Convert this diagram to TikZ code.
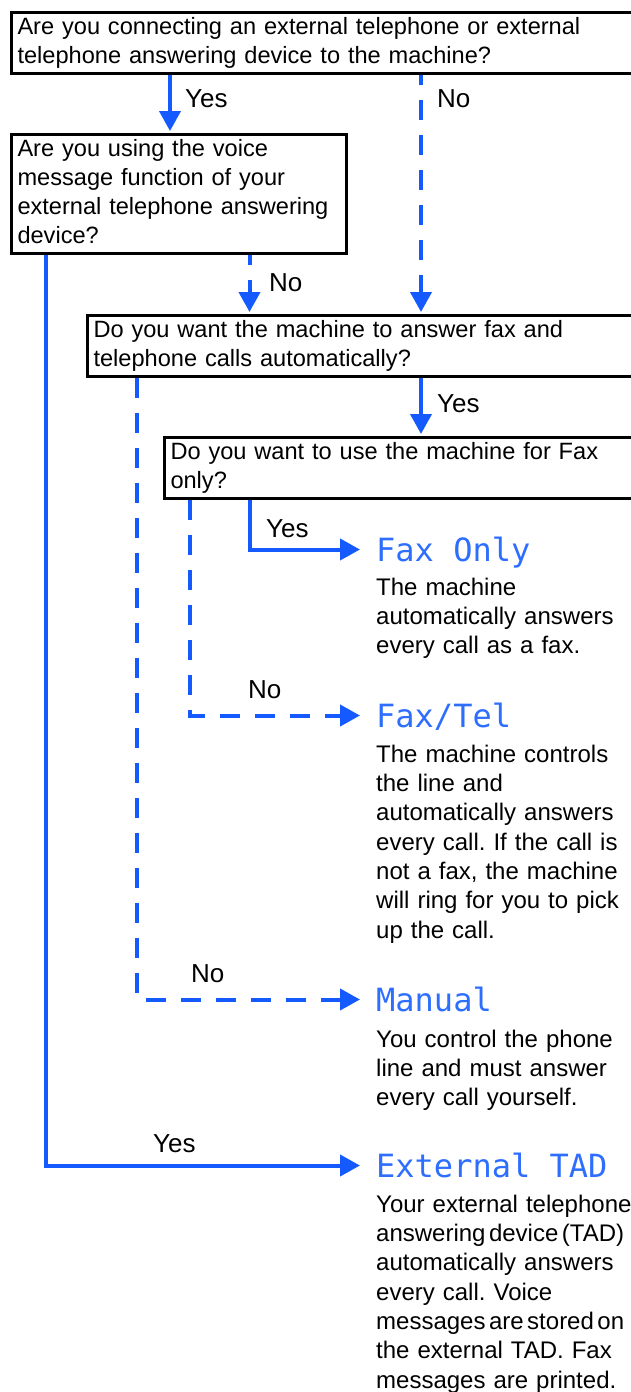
\documentclass[tikz,border=0pt]{standalone}
\usepackage{fontspec}
\setmainfont{Liberation Sans}
\newfontfamily\lcdfont{DejaVu Sans Mono}
\usetikzlibrary{arrows.meta}
\definecolor{flowblue}{RGB}{20,90,255}
\definecolor{lcdblue}{RGB}{45,110,255}
\frenchspacing
\begin{document}
\begin{tikzpicture}[x=1pt,y=-1pt,
  qbox/.style={draw=black, line width=3pt, anchor=north west, align=left,
    inner xsep=6pt, inner ysep=1.5pt, font=\fontsize{23.6}{29}\selectfont},
  lbl/.style={anchor=base west, inner sep=0pt, font=\fontsize{26}{30}\selectfont},
  title/.style={anchor=base west, inner sep=0pt, text=lcdblue,
    font=\lcdfont\fontsize{32}{36}\selectfont, text height=27pt, text depth=4pt},
  desc/.style={anchor=north west, inner sep=0pt, align=left, text width=262pt,
    font=\fontsize{24}{29.3}\selectfont},
  yesarrow/.style={draw=flowblue, line width=4pt, -{Triangle[width=21pt,length=20pt]}},
  noarrow/.style={yesarrow, dash pattern=on 20pt off 15pt},
]
\useasboundingbox (0,0) rectangle (631,1392);
\clip (0,0) rectangle (631,1392);

% question boxes
\node[qbox, text width=640pt] (q1) at (10,11)
  {\strut Are you connecting an external telephone or external\\telephone answering device to the machine?\strut};
\node[qbox, text width=323pt] (q2) at (10,133)
  {\strut Are you using the voice\\message function of your\\external telephone answering\\device?\strut};
\node[qbox, text width=600pt] (q3) at (86,314)
  {\strut Do you want the machine to answer fax and\\telephone calls automatically?\strut};
\node[qbox, text width=600pt] (q4) at (163,436)
  {\strut Do you want to use the machine for Fax\\only?\strut};

% mode titles
\node[title] (t1) at (376,561) {Fax Only};
\node[title] (t2) at (376,727) {Fax/Tel};
\node[title] (t3) at (376,1011) {Manual};
\node[title] (t4) at (376,1177) {External TAD};

% descriptions
\node[desc] (d1) at (376,574.5)
  {\strut The machine\\automatically answers\\every call as a fax.};
\node[desc] (d2) at (376,741.5)
  {\strut The machine controls\\the line and\\automatically answers\\every call. If the call is\\not a fax, the machine\\will ring for you to pick\\up the call.};
\node[desc] (d3) at (376,1026.5)
  {\strut You control the phone\\line and must answer\\every call yourself.};
\node[desc] (d4) at (376,1191.5)
  {\strut Your external telephone\\{\spaceskip=3.5pt answering device (TAD)}\\automatically answers\\every call. Voice\\{\spaceskip=3.5pt messages are stored on}\\the external TAD. Fax\\messages are printed.};

% connectors
\draw[yesarrow, shorten >=2pt] ([xshift=160pt]q1.south west) -- ([xshift=160pt]q2.north west);
\draw[noarrow, dash phase=10pt, shorten >=2pt] ([xshift=411pt]q1.south west) -- ([xshift=335pt]q3.north west);
\draw[noarrow, dash phase=10pt, shorten >=2pt] ([xshift=239.5pt]q2.south west) -- ([xshift=163.5pt]q3.north west);
\draw[yesarrow, shorten >=2pt] ([xshift=335pt]q3.south west) -- ([xshift=258pt]q4.north west);
\draw[yesarrow] ([xshift=86.5pt]q4.south west) |- ([xshift=-16pt]t1.west);
\draw[noarrow] ([xshift=27pt]q4.south west) |- ([xshift=-16pt]t2.west);
\draw[noarrow] ([xshift=51pt]q3.south west) |- ([xshift=-16pt]t3.west);
\draw[yesarrow] ([xshift=35.5pt]q2.south west) |- ([xshift=-16pt]t4.west);

% labels
\node[lbl] (l1) at (185,107) {Yes};
\node[lbl] (l2) at (437,107) {No};
\node[lbl] (l3) at (269,291) {No};
\node[lbl] (l4) at (437,412) {Yes};
\node[lbl] (l5) at (266,537) {Yes};
\node[lbl] (l6) at (248,698) {No};
\node[lbl] (l7) at (191,982) {No};
\node[lbl] (l8) at (153,1152) {Yes};
\end{tikzpicture}
\end{document}
